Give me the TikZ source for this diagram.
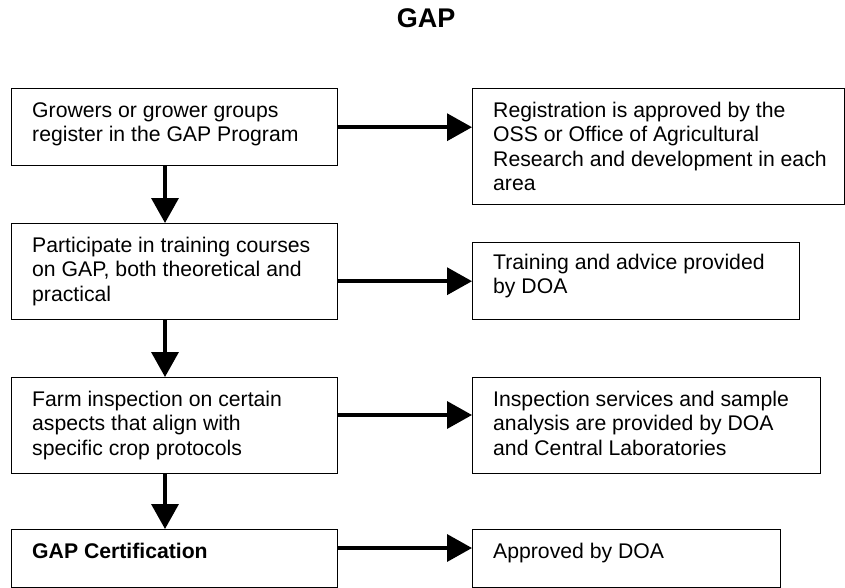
\documentclass[tikz,border=0pt]{standalone}
\usepackage{fontspec}
\setmainfont{Liberation Sans}
\usetikzlibrary{arrows.meta,calc}
\begin{document}
\begin{tikzpicture}[x=1pt,y=-1pt,
  box/.style={draw, line width=1.4pt, inner sep=0pt, anchor=north west},
  txt/.style={anchor=north west, inner sep=0pt, align=left, font=\fontsize{21.2}{24.4}\selectfont},
  flow/.style={line width=3.5pt, -{Triangle[length=25pt,width=27pt]}}]
\useasboundingbox (0,0) rectangle (845,588);
\node[font=\bfseries\fontsize{27}{30}\selectfont, anchor=base] (title) at (426,28) {GAP};
% left column
\node[box, minimum width=326pt, minimum height=77pt] (b1) at (11,88) {};
\node[box, minimum width=326pt, minimum height=96pt] (b2) at (11,223) {};
\node[box, minimum width=326pt, minimum height=96pt] (b3) at (11,377) {};
\node[box, minimum width=326pt, minimum height=58pt] (b4) at (11,529) {};
% right column
\node[box, minimum width=372pt, minimum height=116pt] (r1) at (472,88) {};
\node[box, minimum width=327pt, minimum height=77pt] (r2) at (472,242) {};
\node[box, minimum width=348pt, minimum height=96pt] (r3) at (472,377) {};
\node[box, minimum width=308pt, minimum height=58pt] (r4) at (472,529) {};
% texts
\node[txt] (t1) at ($(b1.north west)+(21,12)$) {\strut Growers or grower groups\\register in the GAP Program};
\node[txt] (t2) at ($(b2.north west)+(21,12)$) {\strut Participate in training courses\\on GAP, both theoretical and\\practical};
\node[txt] (t3) at ($(b3.north west)+(21,12)$) {\strut Farm inspection on certain\\aspects that align with\\specific crop protocols};
\node[txt] (t4) at ($(b4.north west)+(21,12)$) {\strut\bfseries GAP Certification};
\node[txt] (u1) at ($(r1.north west)+(21,12)$) {\strut Registration is approved by the\\OSS or Office of Agricultural\\Research and development in each\\area};
\node[txt] (u2) at ($(r2.north west)+(21,10)$) {\strut Training and advice provided\\by DOA};
\node[txt] (u3) at ($(r3.north west)+(21,12)$) {\strut Inspection services and sample\\analysis are provided by DOA\\and Central Laboratories};
\node[txt] (u4) at ($(r4.north west)+(21,12)$) {\strut Approved by DOA};
% connectors
\coordinate (vx) at (165,0);
\coordinate (y3) at (0,415);
\coordinate (y4) at (0,548);
\draw[flow] (b1.east) -- (r1.west |- b1.east);
\draw[flow] (b2.east |- r2.west) -- (r2.west);
\draw[flow] (b3.east |- y3) -- (r3.west |- y3);
\draw[flow] (b4.east |- y4) -- (r4.west |- y4);
\draw[flow] (b1.south -| vx) -- (b2.north -| vx);
\draw[flow] (b2.south -| vx) -- (b3.north -| vx);
\draw[flow] (b3.south -| vx) -- (b4.north -| vx);
\end{tikzpicture}
\end{document}
